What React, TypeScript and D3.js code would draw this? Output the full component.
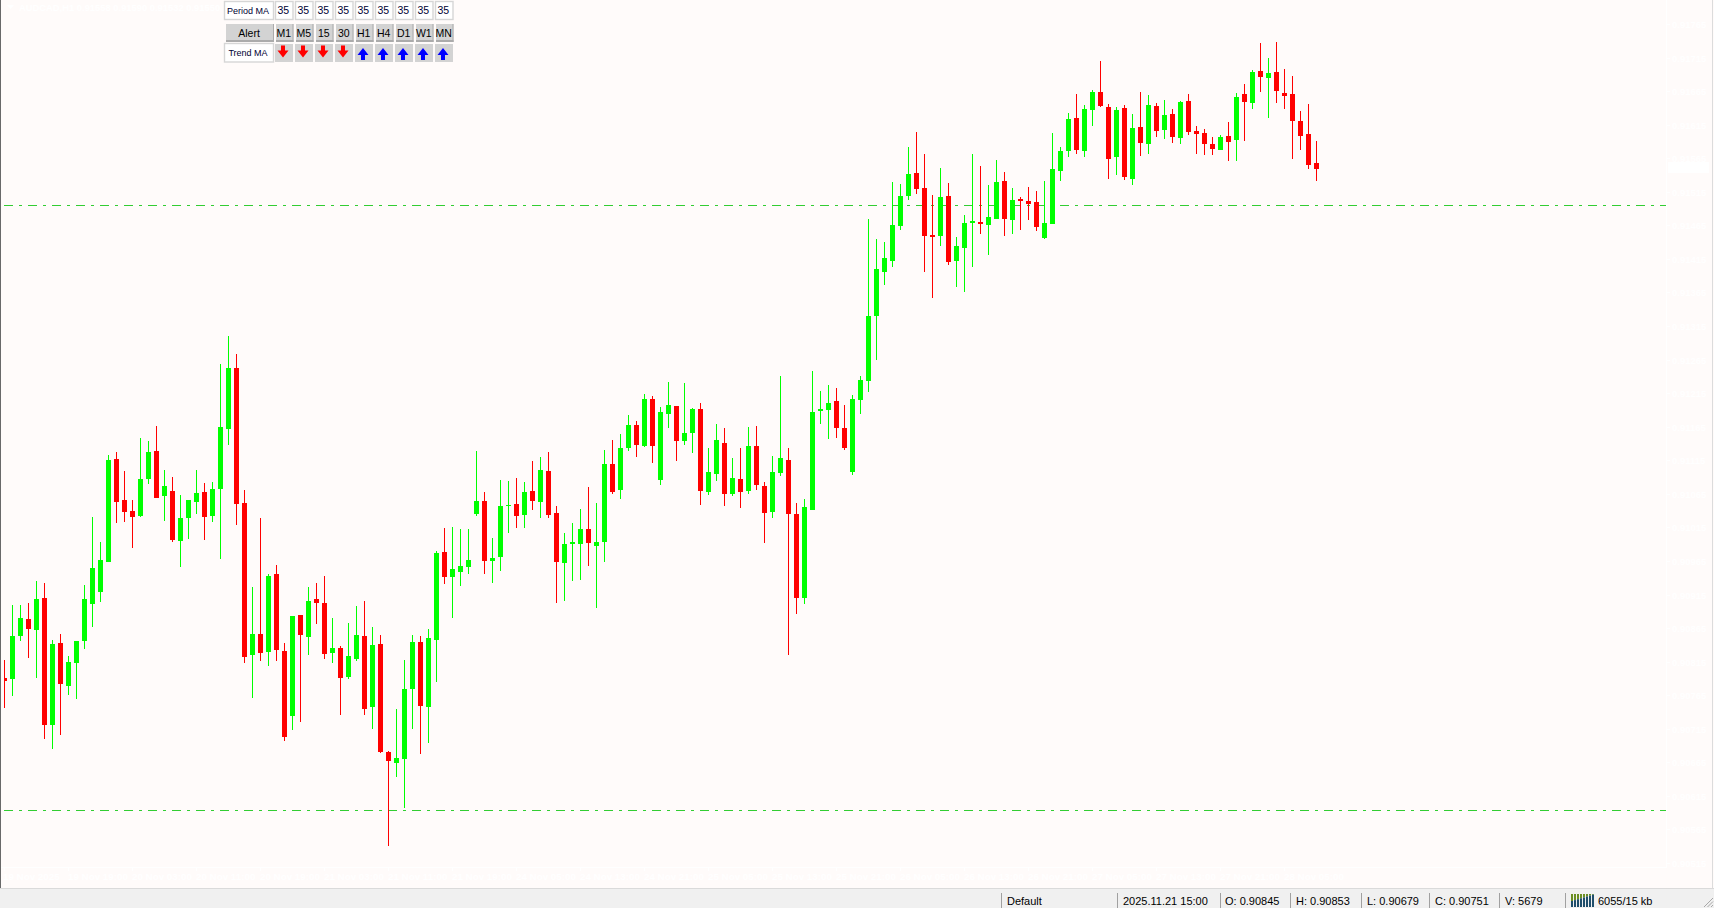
import React from "react";
import * as d3 from "d3";

// Prices in points (1 point = 0.00001), AUDCAD H1, one value per candle.
const opens = [90791,90789,90853,90878,90862,90910,90721,90843,90779,90813,
90846,90901,90919,90963,91117,91056,91039,91032,91087,91129,
91062,91069,90995,91029,91053,91068,91032,91072,91162,91252,
91051,90825,90856,90829,90946,90831,90734,90884,90852,90908,
90902,90828,90835,90792,90819,90853,90747,90841,90680,90664,
90670,90774,90844,90747,90847,90978,90941,90948,90956,91035,
91054,90965,90971,91047,91050,91033,91069,91053,91099,91036,
90962,90990,90990,91013,90987,90993,91109,91071,91133,91168,
91136,91206,91086,91184,91196,91144,91156,91191,91068,91095,
91141,91065,91087,91069,91136,91077,91038,91096,91115,91035,
90910,91041,91188,91190,91203,91163,91097,91205,91233,91330,
91395,91412,91464,91509,91543,91521,91451,91449,91509,91412,
91431,91468,91470,91466,91474,91531,91473,91504,91501,91500,
91446,91467,91546,91576,91625,91576,91637,91664,91641,91567,
91640,91534,91612,91586,91643,91607,91631,91595,91650,91606,
91603,91586,91577,91598,91592,91661,91647,91695,91685,91693,
91662,91661,91620,91601,91558];
const closes = [90786,90853,90880,90864,90908,90721,90841,90782,90814,90846,
90908,90954,90966,91115,91053,91038,91030,91087,91127,91059,
91077,90996,91029,91056,91066,91030,91072,91165,91252,91050,
90822,90856,90828,90943,90832,90703,90883,90855,90905,90902,
90826,90835,90791,90823,90855,90744,90840,90680,90667,90671,
90774,90844,90749,90850,90977,90941,90953,90957,90966,91054,
90965,90969,91047,91048,91032,91068,91054,91100,91033,90963,
90990,90993,91013,90992,90993,91109,91068,91133,91168,91138,
91206,91136,91187,91197,91144,91156,91191,91069,91097,91145,
91065,91089,91068,91136,91078,91036,91097,91118,91035,90910,
91045,91187,91191,91200,91163,91133,91206,91235,91330,91400,
91416,91466,91509,91542,91519,91449,91448,91507,91410,91434,
91468,91471,91467,91477,91530,91474,91503,91501,91497,91463,
91468,91549,91576,91623,91577,91638,91664,91643,91564,91637,
91537,91610,91588,91644,91606,91629,91597,91649,91604,91601,
91586,91579,91597,91589,91656,91649,91693,91686,91692,91665,
91658,91620,91598,91555,91549];
const highs = [90817,90899,90899,90902,90935,90932,90847,90856,90823,90846,
90929,91030,90993,91123,91127,91099,91056,91148,91144,91166,
91100,91090,91063,91056,91100,91081,91083,91258,91300,91273,
91071,90926,91029,90946,90959,90843,90883,90884,90926,90932,
90943,90880,90838,90873,90898,90905,90867,90855,90682,90744,
90817,90855,90853,90864,90980,91014,91016,91013,91013,91129,
91068,90999,91086,91084,91089,91083,91114,91120,91127,91047,
91007,91021,91042,91075,91051,91130,91145,91154,91182,91173,
91214,91211,91194,91232,91196,91230,91193,91200,91133,91169,
91163,91118,91133,91165,91166,91083,91121,91241,91133,91051,
91057,91248,91218,91227,91223,91197,91212,91241,91474,91445,
91440,91530,91527,91582,91604,91572,91510,91550,91528,91448,
91480,91572,91553,91525,91562,91545,91521,91507,91522,91516,
91531,91603,91582,91632,91661,91644,91667,91710,91646,91641,
91644,91631,91664,91659,91647,91652,91638,91650,91661,91613,
91609,91597,91600,91619,91662,91676,91696,91737,91714,91738,
91698,91688,91635,91646,91591];
const lows = [90746,90764,90846,90820,90791,90700,90685,90706,90765,90759,
90834,90867,90904,90963,91021,91023,90984,91030,91080,91059,
91024,90993,90956,90998,91035,90996,91023,90968,91138,91019,
90813,90761,90816,90808,90816,90697,90713,90725,90825,90871,
90819,90813,90735,90789,90816,90735,90715,90679,90540,90643,
90597,90715,90677,90694,90785,90931,90880,90928,90946,91032,
90946,90932,90950,91007,91014,91014,91041,91029,91029,90902,
90905,90935,90937,90957,90895,90963,91065,91057,91129,91120,
91135,91111,91078,91163,91114,91138,91126,91048,91063,91084,
91047,91062,91044,91065,91071,90992,91029,91092,90825,90886,
90901,91041,91169,91147,91148,91130,91093,91184,91217,91264,
91376,91403,91458,91503,91512,91395,91357,91434,91406,91373,
91366,91403,91452,91421,91474,91449,91452,91458,91473,91457,
91445,91467,91531,91567,91572,91567,91613,91641,91534,91540,
91533,91525,91568,91572,91597,91594,91588,91586,91600,91572,
91570,91570,91577,91561,91561,91591,91638,91664,91625,91647,
91638,91564,91577,91549,91531];

const levels = [91495, 90594];
const lastPrice = 91550;
const priceTicks = d3.range(90515, 91766, 50);
const timeLabels = ["19 Nov 2025","19 Nov 19:00","20 Nov 03:00","20 Nov 11:00","20 Nov 19:00","21 Nov 03:00","21 Nov 11:00","21 Nov 19:00","24 Nov 05:00","24 Nov 13:00","24 Nov 21:00","25 Nov 05:00","25 Nov 13:00","25 Nov 21:00","26 Nov 05:00","26 Nov 13:00","26 Nov 21:00","27 Nov 05:00","27 Nov 13:00","27 Nov 21:00","28 Nov 05:00"];
const timeframes = ["M1","M5","15","30","H1","H4","D1","W1","MN"];
const trendUp = [false,false,false,false,true,true,true,true,true];
const statusItems = [
  { sep: 1001, tx: 1007, t: "Default" },
  { sep: 1117, tx: 1123, t: "2025.11.21 15:00" },
  { sep: 1220, tx: 1225, t: "O: 0.90845" },
  { sep: 1290, tx: 1296, t: "H: 0.90853" },
  { sep: 1361, tx: 1367, t: "L: 0.90679" },
  { sep: 1429, tx: 1435, t: "C: 0.90751" },
  { sep: 1499, tx: 1505, t: "V: 5679" },
  { sep: 1565, tx: 1598, t: "6055/15 kb" },
];

const W = 1714, H = 908;
const BG = "#FFFBFA";
const GREEN = "#00FF00", RED = "#FF0000", LEVEL = "#32CD32";
const sansFont = "'Liberation Sans', Arial, sans-serif";

const fmt = (p: number) => (p / 100000).toFixed(5);

function arrowPath(cx: number, top: number, up: boolean) {
  const h = 12;
  const pts: [number, number][] = [
    [-2, 0], [2, 0], [2, 5], [5.5, 5], [0, h], [-5.5, 5], [-2, 5],
  ].map(([dx, dy]) => [cx + dx, up ? top + h - dy : top + dy]);
  return d3.line().curve(d3.curveLinearClosed)(pts) as string;
}

function Button({ x, y, w, h, label, size }: any) {
  return (
    <g>
      <rect x={x} y={y} width={w} height={h} fill="#D3D3D3" />
      <rect x={x} y={y + h - 2} width={w} height={2} fill="#ABABAB" />
      <rect x={x + w - 1} y={y} width={1} height={h} fill="#ABABAB" />
      <text x={x + w / 2 - 1} y={y + h / 2 + 3.5} textAnchor="middle" fontSize={size} fill="#000">{label}</text>
    </g>
  );
}

function Edit({ x, y, w, h, label, size }: any) {
  return (
    <g>
      <rect x={x + 0.5} y={y + 0.5} width={w - 1} height={h - 1} fill="#fff" stroke="#D6D6D6" strokeWidth={1.4} />
      <text x={x + w / 2 - 1} y={y + h / 2 + 3.5} textAnchor="middle" fontSize={size} fill="#000033">{label}</text>
    </g>
  );
}

export default function App() {
  const x = d3.scaleLinear().domain([0, opens.length - 1]).range([4, 1316]);
  const yRaw = d3.scaleLinear().domain([91765, 90515]).range([24, 863]);
  const y = (p: number) => Math.round(yRaw(p));

  return (
    <svg width={W} height={H} viewBox={`0 0 ${W} ${H}`} fontFamily={sansFont}
      style={{ position: "absolute", left: 0, top: 0, display: "block" }}>
      <defs>
        <clipPath id="plot"><rect x={4} y={0} width={1662} height={867} /></clipPath>
      </defs>
      <rect width={W} height={H} fill={BG} />

      {/* hidden-in-white axes and title */}
      <g fill="#fff" stroke="none">
        <rect x={1666} y={0} width={1} height={867} />
        <rect x={1} y={867} width={1666} height={1} />
        {priceTicks.map((p) => (
          <g key={p}>
            <rect x={1667} y={y(p)} width={3} height={1} />
            <text x={1672} y={y(p) + 4} fontSize={9.5} fontWeight={700}>{fmt(p)}</text>
          </g>
        ))}
        <rect x={1668} y={y(lastPrice) - 6} width={41} height={11} />
        {timeLabels.map((t, k) => (
          <g key={t}>
            <rect x={x(k * 8)} y={868} width={1} height={3} />
            <text x={k === 0 ? 3 : x(k * 8)} y={880} fontSize={9.8} fontWeight={700}>{t}</text>
          </g>
        ))}
        <path d="M7 5 L14 5 L10.5 9 Z" />
        <text x={19} y={11} fontSize={9.4} fontWeight={700}>AUDCAD,H1 0.91558 0.91590 0.91532 0.91550</text>
      </g>

      {/* horizontal levels */}
      {levels.map((p) => (
        <line key={p} x1={4} x2={1666} y1={y(p) + 0.5} y2={y(p) + 0.5}
          stroke={LEVEL} strokeWidth={1} strokeDasharray="9 6 3 6" />
      ))}

      {/* candles */}
      <g clipPath="url(#plot)" shapeRendering="crispEdges">
        {opens.map((o, i) => {
          const c = closes[i];
          const col = c > o ? GREEN : RED;
          const top = y(Math.max(o, c));
          const bot = y(Math.min(o, c));
          const cx = x(i);
          return (
            <g key={i} fill={col}>
              <rect x={cx} y={y(highs[i])} width={1} height={y(lows[i]) - y(highs[i])} />
              <rect x={cx - 2} y={top} width={5} height={Math.max(1, bot - top)} />
            </g>
          );
        })}
      </g>

      {/* frame */}
      <rect x={0} y={0} width={1} height={888} fill="#696969" />
      <rect x={1712} y={0} width={1} height={888} fill="#DCDCDC" />

      {/* MA panel */}
      <g>
        <Edit x={224} y={1} w={50} h={19} label="Period MA" size={9} />
        {timeframes.map((_, k) => (
          <Edit key={k} x={275 + k * 20} y={1} w={18.5} h={19} label="35" size={10.5} />
        ))}
        <Button x={226} y={24} w={48} h={18} label="Alert" size={10.5} />
        {timeframes.map((tf, k) => (
          <Button key={tf} x={276 + k * 20} y={24} w={17.5} h={18} label={tf} size={10.5} />
        ))}
        <Edit x={224} y={43} w={50} h={19.5} label="Trend MA" size={9} />
        {trendUp.map((up, k) => (
          <g key={k}>
            <rect x={275 + k * 20} y={44} width={18} height={18} fill="#D3D3D3" />
            <path d={arrowPath(283 + k * 20, up ? 48 : 45.5, up)} fill={up ? "#0000FF" : "#FF0000"} />
          </g>
        ))}
      </g>

      {/* status bar */}
      <rect x={0} y={888} width={W} height={20} fill="#F0F0F0" />
      <rect x={0} y={888} width={W} height={1} fill="#DADADA" />
      {statusItems.map((s) => (
        <g key={s.t}>
          <rect x={s.sep} y={893} width={1} height={15} fill="#A0A0A0" />
          <text x={s.tx} y={905} fontSize={11} fill="#000">{s.t}</text>
        </g>
      ))}
      {d3.range(8).map((k) => {
        const split = 901 - k * 0.9;
        return (
          <g key={k}>
            <rect x={1571 + k * 3} y={894} width={2} height={split - 894} fill="#6B8E23" />
            <rect x={1571 + k * 3} y={split} width={2} height={907 - split} fill="#1F4E6B" />
          </g>
        );
      })}
      <g stroke="#A8A8A8" strokeWidth={1}>
        {d3.range(3).map((k) => (
          <line key={k} x1={1704 + k * 3.5} y1={907} x2={1713} y2={898 + k * 3.5} />
        ))}
      </g>
    </svg>
  );
}
